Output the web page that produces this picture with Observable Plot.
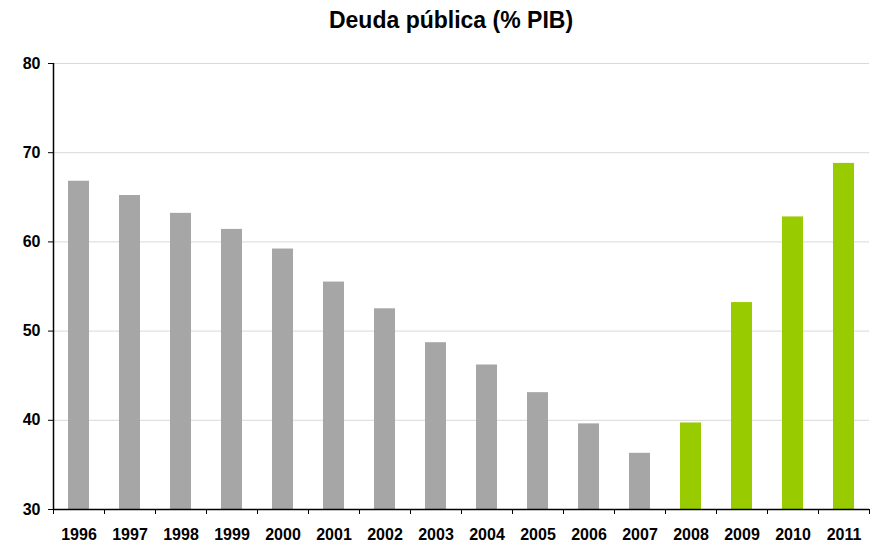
<!DOCTYPE html>
<html>
<head>
<meta charset="utf-8">
<script src="https://cdn.jsdelivr.net/npm/d3@7"></script>
<script src="https://cdn.jsdelivr.net/npm/@observablehq/plot@0.6"></script>
<style>
  body { margin: 0; background: #fff; font-family: "Liberation Sans", Arial, sans-serif; }
  #title { height: 40px; box-sizing: border-box; padding-left: 24px; text-align: center;
           font-weight: bold; font-size: 23px; line-height: 23px; padding-top: 9px; color: #000; }
</style>
</head>
<body>
<div id="title">Deuda pública (% PIB)</div>
<div id="chart"></div>
<script>
const years = [1996, 1997, 1998, 1999, 2000, 2001, 2002, 2003, 2004, 2005, 2006, 2007, 2008, 2009, 2010, 2011];
const debt = [66.8, 65.2, 63.2, 61.4, 59.2, 55.5, 52.5, 48.7, 46.2, 43.1, 39.6, 36.3, 39.7, 53.2, 62.8, 68.8];
const highlightFrom = 2008;
const yTicks = [30, 40, 50, 60, 70, 80];
const gridTicks = [40, 50, 60, 70, 80];
const yMin = 30, yMax = 80;

const data = years.map((y, i) => ({year: y, value: debt[i]}));
const boundaries = d3.range(years[0] - 0.5, years[years.length - 1] + 1, 1);
const halfBar = 0.206;

const chart = Plot.plot({
  width: 878,
  height: 502,
  marginTop: 23,
  marginBottom: 33,
  marginLeft: 53,
  marginRight: 9,
  style: {fontFamily: '"Liberation Sans", Arial, sans-serif', fontWeight: "bold", color: "#000"},
  x: {domain: [years[0] - 0.5, years[years.length - 1] + 0.5]},
  y: {domain: [yMin, yMax]},
  marks: [
    Plot.ruleY(gridTicks, {stroke: "#d9d9d9", strokeWidth: 1}),
    Plot.rect(data, {
      x1: d => d.year - halfBar,
      x2: d => d.year + halfBar,
      y1: () => yMin,
      y2: "value",
      fill: d => d.year >= highlightFrom ? "#99CC00" : "#A6A6A6"
    }),
    Plot.axisY({ticks: yTicks, tickSize: 5, tickPadding: 8, fontSize: 16, tickFormat: d => String(d), label: null, stroke: "#000"}),
    Plot.axisX({ticks: boundaries, tickSize: 5, tickFormat: () => "", label: null, stroke: "#000"}),
    Plot.axisX({ticks: years, tickSize: 0, tickPadding: 19, fontSize: 16, tickFormat: d => String(d), label: null}),
    Plot.ruleX([years[0] - 0.5], {stroke: "#000", strokeWidth: 1.5}),
    Plot.ruleY([yMin], {stroke: "#000", strokeWidth: 1.5})
  ]
});
document.getElementById("chart").appendChild(chart);
</script>
</body>
</html>
